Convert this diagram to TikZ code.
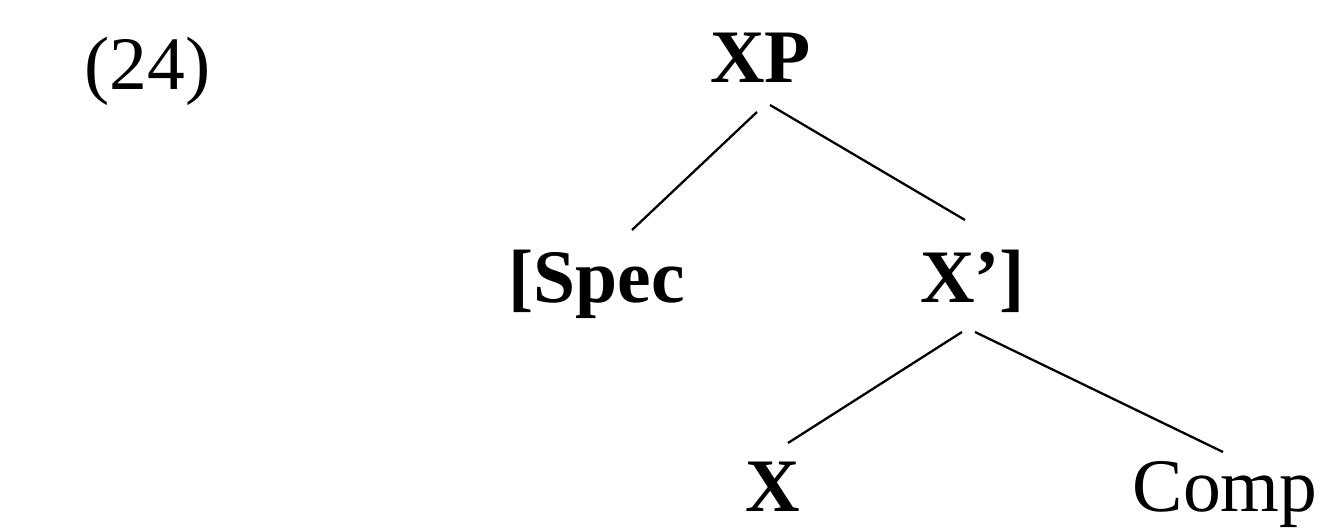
\documentclass[tikz,border=0pt]{standalone}
\usepackage{fontspec}
\setmainfont{Liberation Serif}
\begin{document}
\begin{tikzpicture}[
    lbl/.style={anchor=base, inner sep=0pt, font=\fontsize{43}{50}\selectfont},
    cat/.style={lbl, font=\fontsize{43}{50}\selectfont\bfseries},
    branch/.style={line width=1.3pt}]
    \useasboundingbox (0,0) rectangle (26.4,10.62);

    \node[lbl] (ex) at (2.95,8.82) {(24)};
    \node[cat] (xp) at (15.21,8.96) {XP};
    \node[cat] (spec) at (11.93,4.56) {[Spec};
    \node[cat] (xbar) at (19.45,4.56) {X’]};
    \node[cat] (head) at (15.45,0.38) {X};
    \node[lbl] (comp) at (24.50,0.38) {Comp};

    % branch ends
    \coordinate (xp-l) at (15.14,8.38);
    \coordinate (xp-r) at (15.40,8.52);
    \coordinate (spec-t) at (12.64,6.02);
    \coordinate (xbar-t) at (19.30,6.22);
    \coordinate (xbar-l) at (19.24,3.98);
    \coordinate (xbar-r) at (19.50,3.98);
    \coordinate (head-t) at (15.76,1.76);
    \coordinate (comp-t) at (24.46,1.58);

    \draw[branch] (xp-l) -- (spec-t);
    \draw[branch] (xp-r) -- (xbar-t);
    \draw[branch] (xbar-l) -- (head-t);
    \draw[branch] (xbar-r) -- (comp-t);
\end{tikzpicture}
\end{document}
